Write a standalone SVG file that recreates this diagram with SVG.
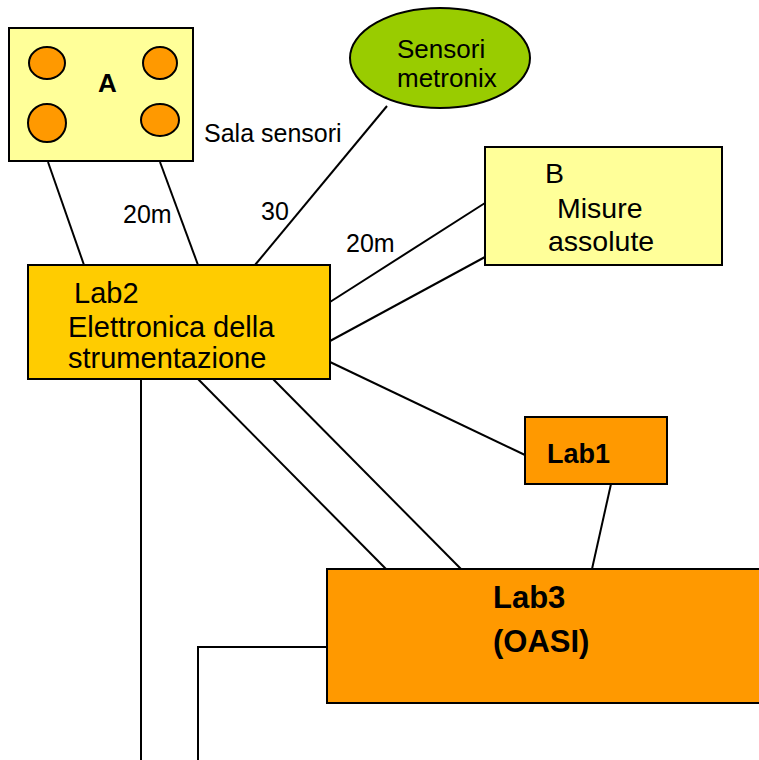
<svg xmlns="http://www.w3.org/2000/svg" width="759" height="760" viewBox="0 0 759 760">
<style>
.n{stroke:#000;stroke-width:2}
.t{font-family:"Liberation Sans",Arial,sans-serif;fill:#000}
.b{font-weight:bold}
#connectors line,#connectors polyline{stroke:#000;stroke-width:2;fill:none}
</style>
<rect width="759" height="760" fill="#fff"/>
<g id="connectors">
<line x1="48" y1="162" x2="84" y2="265"/>
<line x1="160" y1="162" x2="198" y2="265"/>
<line x1="387" y1="106" x2="255" y2="265"/>
<line x1="485" y1="203" x2="330" y2="302"/>
<line x1="485" y1="257" x2="330" y2="341"/>
<line x1="330" y1="362" x2="525" y2="455"/>
<line x1="611" y1="484" x2="592" y2="569"/>
<line x1="198" y1="379" x2="386" y2="569"/>
<line x1="273" y1="379" x2="461" y2="569"/>
<line x1="141" y1="379" x2="141" y2="760"/>
<polyline points="330,647 198,647 198,760"/>
</g>
<g id="labels">
<text class="t" x="123" y="223" font-size="25">20m</text>
<text class="t" x="261" y="220" font-size="25">30</text>
<text class="t" x="346" y="252" font-size="25">20m</text>
<text class="t" x="204" y="142" font-size="25">Sala sensori</text>
</g>
<g id="A">
<rect class="n" x="9" y="28" width="184" height="133" fill="#FFFF99"/>
<ellipse class="n" cx="47" cy="63" rx="18" ry="16" fill="#FF9900"/>
<ellipse class="n" cx="47" cy="123" rx="19" ry="19" fill="#FF9900"/>
<ellipse class="n" cx="160" cy="63" rx="17" ry="16" fill="#FF9900"/>
<ellipse class="n" cx="160" cy="120" rx="19" ry="16" fill="#FF9900"/>
<text class="t b" x="98" y="92" font-size="26">A</text>
</g>
<g id="sensori">
<ellipse class="n" cx="440" cy="58" rx="90" ry="50" fill="#99CC00"/>
<text class="t" x="397" y="58" font-size="26">Sensori</text>
<text class="t" x="397" y="87" font-size="26">metronix</text>
</g>
<g id="B">
<rect class="n" x="485" y="147" width="237" height="118" fill="#FFFF99"/>
<text class="t" x="545" y="183" font-size="28.5">B</text>
<text class="t" x="557" y="218" font-size="28.5">Misure</text>
<text class="t" x="548" y="251" font-size="28.5">assolute</text>
</g>
<g id="Lab2">
<rect class="n" x="28" y="265" width="302" height="114" fill="#FFCC00"/>
<text class="t" x="74" y="303" font-size="29">Lab2</text>
<text class="t" x="68" y="337" font-size="29">Elettronica della</text>
<text class="t" x="68" y="368" font-size="29">strumentazione</text>
</g>
<g id="Lab1">
<rect class="n" x="525" y="417" width="142" height="67" fill="#FF9900"/>
<text class="t b" x="547" y="463" font-size="27">Lab1</text>
</g>
<g id="Lab3">
<rect class="n" x="327" y="569" width="440" height="134" fill="#FF9900"/>
<text class="t b" x="493" y="608" font-size="31">Lab3</text>
<text class="t b" x="493" y="652" font-size="31">(OASI)</text>
</g>
</svg>
